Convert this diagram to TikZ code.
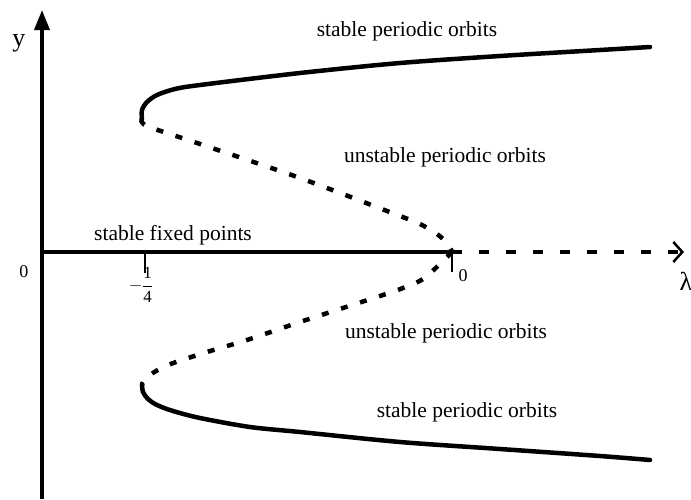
\documentclass[tikz,border=0pt]{standalone}
\usepackage{fontspec}
\setmainfont{Liberation Serif}
\usepackage{amsmath}
\usetikzlibrary{arrows.meta}

\begin{document}
\begin{tikzpicture}[
  x=1pt, y=-1pt,
  lbl/.style={inner sep=0pt, font=\fontsize{21.5}{24}\selectfont},
  ticklbl/.style={inner sep=0pt, font=\fontsize{18}{20}\selectfont},
  axisline/.style={line width=3.5pt},
  stablebr/.style={line width=4.5pt, line cap=round},
  unstablebr/.style={line width=4.5pt, dash pattern=on 7pt off 13pt},
]
  \useasboundingbox (0,0) rectangle (691,499);
  \coordinate (ybot) at (42,499);
  \coordinate (ytop) at (42,10);
  \coordinate (orig) at (42,252);
  \coordinate (fold) at (145,252);
  \coordinate (hopf) at (452,252);
  \coordinate (lend) at (684,252);
  \coordinate (noseU) at (142,119);
  \coordinate (noseL) at (142,384);
  \coordinate (endU) at (650,47);
  \coordinate (endL) at (650,460);

  \node[inner sep=0pt, font=\fontsize{26}{28}\selectfont] (ylab) at (19,43) {y};
  \node[inner sep=0pt, font=\fontsize{26}{28}\selectfont] (lamlab) at (686,281) {λ};
  \node[ticklbl] (zero) at (24,272) {0};
  \node[ticklbl] (zerohopf) at (463,276) {0};
  \node[inner sep=0pt, font=\fontsize{17}{19}\selectfont] (quarter) at (141,285)
    {$-\dfrac{\text{1}}{\text{4}}$};

  \node[lbl] (spoU) at (407,31) {stable periodic orbits};
  \node[lbl] (upoU) at (445,157) {unstable periodic orbits};
  \node[lbl] (sfp) at (173,235) {stable fixed points};
  \node[lbl] (upoL) at (446,333) {unstable periodic orbits};
  \node[lbl] (spoL) at (467,412) {stable periodic orbits};

  \draw[axisline, -{Triangle[length=20pt, width=15pt]}] (ybot) -- (ytop);
  \draw[axisline] (orig) -- (hopf);
  \draw[axisline, dash pattern=on 10pt off 17pt,
        -{Straight Barb[length=9pt, width=20pt, line width=2.5pt]}] (hopf) -- (lend);
  \draw[line width=2.5pt] (fold) -- ++(0,21);
  \draw[line width=2.5pt] (hopf) -- ++(0,20);

  \draw[stablebr] plot[smooth] coordinates {(noseU) (142,110) (147,102) (157,95) (175,89)
    (200,85) (300,73) (400,63) (500,56) (600,50) (endU)};
  \draw[unstablebr] plot[smooth] coordinates {(noseU) (147,126) (200,144) (300,178)
    (400,216) (420,224) (437,234) (448,244) (hopf)};
  \draw[unstablebr] plot[smooth] coordinates {(hopf) (442,262) (423,279) (403,288)
    (383,295) (300,322) (247,340) (207,352) (168,365) (150,375) (noseL)};
  \draw[stablebr] plot[smooth] coordinates {(noseL) (143,392) (148,399) (157,405) (173,411)
    (200,418) (250,427) (300,432) (400,442) (500,449) (600,456) (endL)};
\end{tikzpicture}
\end{document}
